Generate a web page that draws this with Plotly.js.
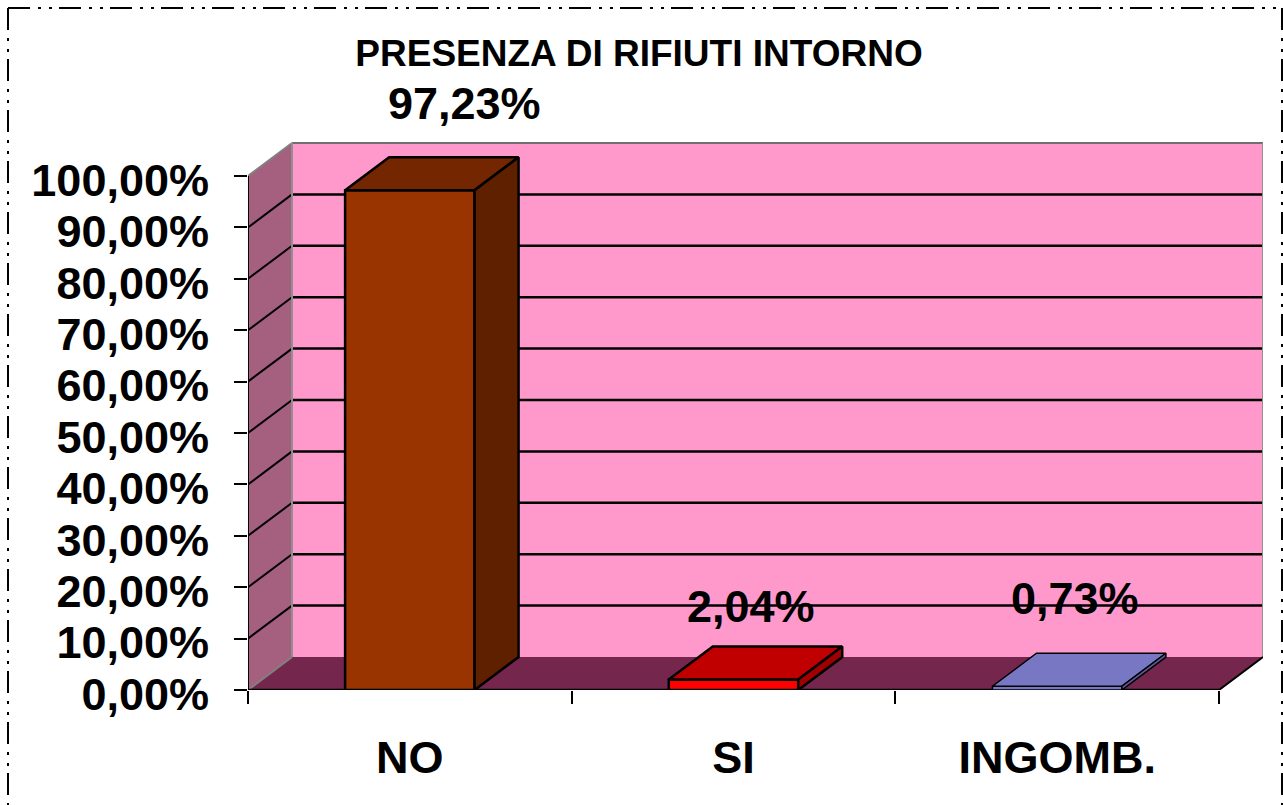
<!DOCTYPE html>
<html>
<head>
<meta charset="utf-8">
<script src="https://cdn.plot.ly/plotly-3.0.1.min.js"></script>
<style>html,body{margin:0;padding:0;background:#fff;overflow:hidden}</style>
</head>
<body>
<div id="chart" style="width:1283px;height:805px"></div>
<script>
const categories = ["NO", "SI", "INGOMB."];
const values = [97.23, 2.04, 0.73];
const valueLabels = ["97,23%", "2,04%", "0,73%"];
const yTickVals = [0, 10, 20, 30, 40, 50, 60, 70, 80, 90, 100];
const yTickText = ["0,00%", "10,00%", "20,00%", "30,00%", "40,00%", "50,00%", "60,00%", "70,00%", "80,00%", "90,00%", "100,00%"];
const frontColors = ["#993300", "#FF0000", "#7777C4"];
const topColors = ["#732600", "#C00000", "#7777C4"];
const sideColors = ["#5F2000", "#A00000", "#5A5A9A"];
const outlineWidths = [2.5, 2.5, 1.5];

const FONT = "Liberation Sans, Arial, sans-serif";
const L = 248, R = 1263, T = 142, B = 690;
const catPx = 323.5, valPx = 5.14;
const DX = 44 / catPx, DY = 33 / valPx;
const BW = 0.4;
const xMin = -0.5, xFront = 2.5, xBack = xFront + DX;
const yMax = (B - T) / valPx, yWall = 100 + DY;

function poly(xs, ys, color, lw) {
  return {type: "scatter", mode: "lines", x: xs.concat(xs[0]), y: ys.concat(ys[0]),
    fill: "toself", fillcolor: color, line: {color: "#000", width: lw},
    hoverinfo: "skip", showlegend: false};
}
const traces = [];
values.forEach((v, i) => {
  const a = i - BW / 2, b = i + BW / 2, w = outlineWidths[i];
  traces.push(poly([a, b, b, a], [0, 0, v, v], frontColors[i], w));
  traces.push(poly([a, b, b + DX, a + DX], [v, v, v + DY, v + DY], topColors[i], w));
  traces.push(poly([b, b + DX, b + DX, b], [0, DY, v + DY, v], sideColors[i], w));
});

function shape(x0, y0, x1, y1, color, width) {
  return {type: "line", layer: "below", xref: "x", yref: "y", x0, y0, x1, y1, line: {color, width}};
}
function area(pts, fill) {
  const path = "M" + pts.map(p => p[0] + "," + p[1]).join("L") + "Z";
  return {type: "path", layer: "below", xref: "x", yref: "y", path, fillcolor: fill, line: {width: 0}};
}
const shapes = [
  area([[xMin + DX, DY], [xBack, DY], [xBack, yWall], [xMin + DX, yWall]], "#FF99CC"),
  area([[xMin, 0], [xMin + DX, DY], [xMin + DX, yWall], [xMin, 100]], "#A56080"),
  area([[xMin, 0], [xFront, 0], [xBack, DY], [xMin + DX, DY]], "#74264C")
];
yTickVals.filter(v => v > 0 && v < 100).forEach(v => {
  shapes.push(shape(xMin, v, xMin + DX, v + DY, "#000", 2));
  shapes.push(shape(xMin + DX, v + DY, xBack, v + DY, "#000", 2.5));
});
shapes.push(shape(xMin, 100, xMin + DX, yWall, "#808080", 2));
shapes.push(shape(xMin + DX, yWall, xBack, yWall, "#707070", 2));
shapes.push(shape(xMin + DX, DY, xMin + DX, yWall, "#909090", 2));
shapes.push(shape(xBack, DY, xBack, yWall, "#909090", 2));
shapes.push(shape(xMin, 0, xMin + DX, DY, "#808080", 2));
shapes.push(shape(xMin, 0, xMin, 100, "#000", 2));
shapes.push(shape(xFront, 0, xBack, DY, "#000", 2));
shapes.push(shape(xMin, 0, xFront, 0, "#000", 2.5));

// dash-dot page frame
const px = p => (p - L) / (R - L), py = p => (B - p) / (B - T);
const framePattern = "22px,8px,3px,8px,3px,7px";
[[8, 8, 1282, 8], [8, 8, 8, 815], [1282, 8, 1282, 815]].forEach(f => {
  shapes.push({type: "line", layer: "above", xref: "paper", yref: "paper",
    x0: px(f[0]), y0: py(f[1]), x1: px(f[2]), y1: py(f[3]),
    line: {color: "#000", width: 2, dash: framePattern}});
});

const xShift = [55, 18, 18], yShift = [87, 73, 88];
const annotations = values.map((v, i) => ({
  xref: "x", yref: "y", x: i, y: v, text: valueLabels[i], showarrow: false,
  xshift: xShift[i], yshift: yShift[i], xanchor: "center", yanchor: "middle",
  font: {family: FONT, size: 45, color: "#000", weight: 700}
}));

const layout = {
  width: 1283, height: 805,
  margin: {l: L, r: 1283 - R, t: T, b: 805 - B, pad: 0},
  paper_bgcolor: "#fff", plot_bgcolor: "rgba(0,0,0,0)",
  showlegend: false,
  title: {text: "<b>PRESENZA DI RIFIUTI INTORNO</b>", x: 639 / 1283, xanchor: "center",
    y: 1 - 53 / 805, yanchor: "middle", font: {family: FONT, size: 37, color: "#000"}},
  xaxis: {range: [xMin, xBack], tickmode: "array", tickvals: [0, 1, 2], ticktext: categories,
    ticks: "", showgrid: false, zeroline: false, showline: false, ticklabelstandoff: 37,
    tickfont: {family: FONT, size: 45, color: "#000", weight: 700},
    minor: {tickmode: "array", tickvals: [-0.5, 0.5, 1.5, 2.5], ticks: "outside", ticklen: 13, tickwidth: 2, tickcolor: "#000", showgrid: false},
    automargin: false, fixedrange: true},
  yaxis: {range: [0, yMax], tickmode: "array", tickvals: yTickVals, ticktext: yTickText,
    ticks: "outside", ticklen: 13, tickwidth: 2, tickcolor: "#000", showgrid: false, zeroline: false,
    showline: false, ticklabelstandoff: 16, ticklabelshift: 4,
    tickfont: {family: FONT, size: 45, color: "#000", weight: 700},
    automargin: false, fixedrange: true},
  shapes, annotations
};
Plotly.newPlot("chart", traces, layout, {displayModeBar: false, staticPlot: true});
</script>
</body>
</html>
